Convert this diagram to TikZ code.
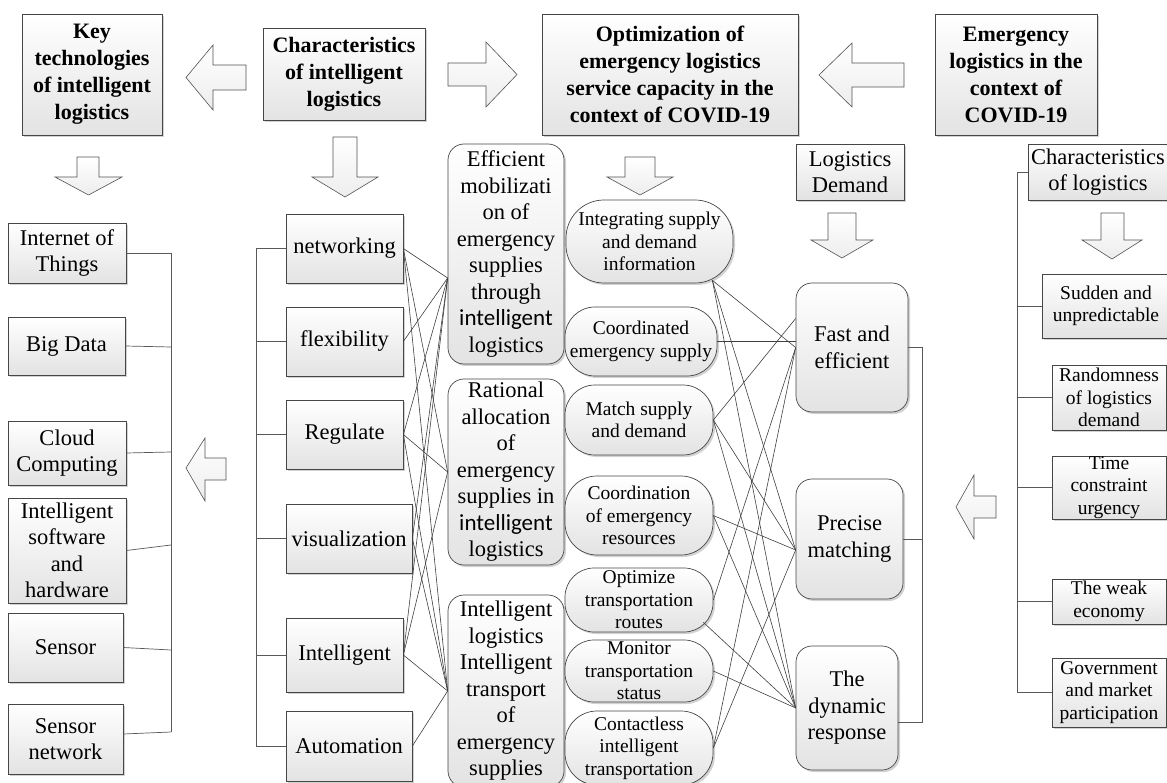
\documentclass[tikz,border=0pt]{standalone}
\usepackage{fontspec}
\setmainfont{Liberation Serif}
\newfontfamily\calibfont{Carlito}
\usetikzlibrary{shadows,calc}
\newcommand\ftitle{\fontsize{22}{27}\selectfont\bfseries}
\newcommand\fbody{\fontsize{22.5}{26.5}\selectfont}
\newcommand\fsmall{\fontsize{19.5}{22.5}\selectfont}
\newcommand\sword[1]{{\calibfont\fontsize{23}{26.5}\selectfont #1}}
\begin{document}
\begin{tikzpicture}[x=1pt,y=-1pt,
  box/.style={draw=gray!55!black, line width=0.7pt, top color=white, bottom color=gray!22,
    drop shadow={shadow xshift=2pt, shadow yshift=-2pt, opacity=0.35, fill=gray},
    align=center, inner sep=0pt},
  rbox/.style={box, rounded corners=16pt},
  pill/.style={box, rounded corners=#1},
  conn/.style={draw=black!75, line width=0.6pt},
  brk/.style={draw=black!65, line width=0.7pt},
  blk/.style={draw=gray!65!black, line width=0.6pt, top color=white, bottom color=gray!14}]
\useasboundingbox (0,0) rectangle (1167,783);
\fill[white] (0,0) rectangle (1167,783);

% ---------- top title boxes ----------
\node[box, minimum width=140pt, minimum height=121pt, font=\ftitle] (key) at (92,74.5) {Key\\technologies\\of intelligent\\logistics};
\node[box, minimum width=162pt, minimum height=92pt, font=\ftitle] (charI) at (344,74) {Characteristics\\of intelligent\\logistics};
\node[box, minimum width=256pt, minimum height=121pt, font=\ftitle] (opt) at (670,74.5) {Optimization of\\emergency logistics\\service capacity in the\\context of COVID-19};
\node[box, minimum width=162pt, minimum height=121pt, font=\ftitle] (emer) at (1016,74.5) {Emergency\\logistics in the\\context of\\COVID-19};

\node[box, minimum width=108pt, minimum height=56pt, font=\fbody] (ldem) at (850,172) {Logistics\\Demand};
\node[box, minimum width=140pt, minimum height=56pt, font=\fbody] (charL) at (1098,172) {Characteristics\\of logistics};

% ---------- block arrows ----------
\path[blk] (186,77.5) -- (213,45) -- (213,65) -- (246,65) -- (246,90) -- (213,90) -- (213,110) -- cycle;
\path[blk] (448,63) -- (486,63) -- (486,42) -- (517,74.5) -- (486,107) -- (486,86) -- (448,86) -- cycle;
\path[blk] (819,75) -- (852,43) -- (852,63) -- (904,63) -- (904,87) -- (852,87) -- (852,107) -- cycle;
\path[blk] (77,157) -- (99,157) -- (99,177) -- (122,177) -- (88.5,195) -- (55,177) -- (77,177) -- cycle;
\path[blk] (333,137) -- (357,137) -- (357,177) -- (378,177) -- (345,197) -- (312,177) -- (333,177) -- cycle;
\path[blk] (625,157) -- (655,157) -- (655,177) -- (673,177) -- (640,195) -- (607,177) -- (625,177) -- cycle;
\path[blk] (828,213) -- (856,213) -- (856,240) -- (873,240) -- (842,258) -- (811,240) -- (828,240) -- cycle;
\path[blk] (1101,213) -- (1124,213) -- (1124,240) -- (1142,240) -- (1112,259) -- (1082,240) -- (1101,240) -- cycle;
\path[blk] (186,468) -- (205,438) -- (205,458) -- (226,458) -- (226,480) -- (205,480) -- (205,501) -- cycle;
\path[blk] (956,507) -- (974,475) -- (974,496) -- (996,496) -- (996,518) -- (974,518) -- (974,539) -- cycle;

% ---------- key technologies ----------
\node[box, minimum width=118pt, minimum height=60pt, font=\fbody] (iot) at (67,253) {Internet of\\Things};
\node[box, minimum width=117pt, minimum height=58pt, font=\fbody] (bigd) at (66.5,346) {Big Data};
\node[box, minimum width=118pt, minimum height=64pt, font=\fbody] (cloud) at (67,453) {Cloud\\Computing};
\node[box, minimum width=118pt, minimum height=105pt, font=\fbody] (isw) at (67,550.5) {Intelligent\\software\\and\\hardware};
\node[box, minimum width=115pt, minimum height=69pt, font=\fbody] (sensor) at (65.5,647.5) {Sensor};
\node[box, minimum width=115pt, minimum height=70pt, font=\fbody] (sensnet) at (65.5,739) {Sensor\\network};

\coordinate (t1) at (171,253);
\coordinate (t2) at (171,347);
\coordinate (t3) at (171,452);
\coordinate (t4) at (171,545);
\coordinate (t5) at (171,650);
\coordinate (t6) at (171,732);
\draw[brk] (t1) -- (t6);
\draw[brk] (iot.east) -- (t1);
\draw[brk] (bigd.east) -- (t2);
\draw[brk] (cloud.east) -- (t3);
\draw[brk] (isw.east) -- (t4);
\draw[brk] (sensor.east) -- (t5);
\draw[brk] ($(sensnet.east)+(0,-5)$) -- (t6);

% ---------- characteristics ----------
\node[box, minimum width=117pt, minimum height=69pt, font=\fbody] (net) at (344.5,248.5) {networking};
\node[box, minimum width=117pt, minimum height=69pt, font=\fbody] (flex) at (344.5,341.5) {flexibility};
\node[box, minimum width=117pt, minimum height=69pt, font=\fbody] (reg) at (344.5,434.5) {Regulate};
\node[box, minimum width=126pt, minimum height=69pt, font=\fbody] (vis) at (349,538.5) {visualization};
\node[box, minimum width=117pt, minimum height=74pt, font=\fbody] (intl) at (344.5,655) {Intelligent};
\node[box, minimum width=126pt, minimum height=70pt, font=\fbody] (auto) at (349,746) {Automation};

\coordinate (lbx) at (256,0);
\draw[brk] (net.west -| lbx) -- (auto.west -| lbx);
\foreach \n in {net,flex,reg,vis,intl,auto} \draw[brk] (\n.west) -- (\n.west -| lbx);

% ---------- middle rounded boxes ----------
\node[rbox, minimum width=116pt, minimum height=220pt, font=\fbody] (eff) at (506,254) {Efficient\\mobilizati\\on of\\emergency\\supplies\\through\\\sword{intelligent}\\logistics};
\node[rbox, minimum width=116pt, minimum height=186pt, font=\fbody] (rat) at (506,472) {Rational\\allocation\\of\\emergency\\supplies in\\\sword{intelligent}\\logistics};
\node[rbox, minimum width=116pt, minimum height=192pt, font=\fbody] (itr) at (506,691) {Intelligent\\logistics\\Intelligent\\transport\\of\\emergency\\supplies};

\coordinate (effin) at ($(eff.west)+(0,24)$);
\foreach \s/\t in {net/effin, net/rat.west, net/itr.west, flex/effin, reg/effin, reg/rat.west, reg/itr.west,
  vis/effin, vis/itr.west, intl/effin, intl/rat.west, intl/itr.west, auto/itr.west}
  \draw[conn] (\s.east) -- (\t);

% ---------- pills ----------
\node[pill=38pt, minimum width=167pt, minimum height=83pt, font=\fsmall] (integ) at (649.5,241.5) {Integrating supply\\and demand\\information};
\node[pill=30pt, minimum width=152pt, minimum height=69pt, font=\fsmall] (coord) at (641,341.5) {Coordinated\\emergency supply};
\node[pill=30pt, minimum width=148pt, minimum height=70pt, font=\fsmall] (match) at (639,420) {Match supply\\and demand};
\node[pill=32pt, minimum width=148pt, minimum height=79pt, font=\fsmall] (coordr) at (639,515.5) {Coordination\\of emergency\\resources};
\node[pill=29pt, minimum width=148pt, minimum height=64pt, font=\fsmall] (optr) at (639,600) {Optimize\\transportation\\routes};
\node[pill=29pt, minimum width=148pt, minimum height=62pt, font=\fsmall] (mon) at (639,671) {Monitor\\transportation\\status};
\node[pill=32pt, minimum width=148pt, minimum height=74pt, font=\fsmall] (contl) at (639,748) {Contactless\\intelligent\\transportation};

% ---------- right outcome boxes ----------
\node[rbox, minimum width=112pt, minimum height=129pt, font=\fbody] (fast) at (852,347.5) {Fast and\\efficient};
\node[rbox, minimum width=107pt, minimum height=120pt, font=\fbody] (prec) at (849.5,539) {Precise\\matching};
\node[rbox, minimum width=102pt, minimum height=124pt, font=\fbody] (dyn) at (847,708) {The\\dynamic\\response};

\coordinate (integout) at ($(integ.south east)+(-21,-3)$);
\coordinate (fastup) at ($(fast.west)+(0,-29)$);
\coordinate (precin) at ($(prec.west)+(0,11)$);
\coordinate (optdown) at ($(optr.south east)+(-10,-10)$);
\draw[conn] (integout) -- (fast.west);
\draw[conn] (integout) -- (precin);
\draw[conn] (integout) -- (dyn.west);
\draw[conn] (coord.east) -- (coord.east -| fast.west);
\draw[conn] (match.east) -- (fastup);
\draw[conn] (match.east) -- (precin);
\draw[conn] (match.east) -- (dyn.west);
\draw[conn] (coordr.east) -- (precin);
\draw[conn] (coordr.east) -- (dyn.west);
\draw[conn] (optr.east) -- (fast.west);
\draw[conn] (optdown) -- (dyn.west);
\draw[conn] (mon.east) -- (dyn.west);
\draw[conn] (contl.east) -- (fast.west);
\draw[conn] (contl.east) -- (precin);

\coordinate (r1) at (922,347.5);
\coordinate (r3) at (922,722);
\draw[brk] (fast.east) -- (r1) -- (r3) -- ($(dyn.east)+(0,14)$);
\draw[brk] (prec.east) -- (prec.east -| r1);

% ---------- characteristics of logistics ----------
\node[box, minimum width=128pt, minimum height=64pt, font=\fsmall] (sud) at (1106,306) {Sudden and\\unpredictable};
\node[box, minimum width=114pt, minimum height=65pt, font=\fsmall] (rand) at (1109,397.5) {Randomness\\of logistics\\demand};
\node[box, minimum width=114pt, minimum height=63pt, font=\fsmall] (time) at (1109,487.5) {Time\\constraint\\urgency};
\node[box, minimum width=114pt, minimum height=45pt, font=\fsmall] (weak) at (1109,601.5) {The weak\\economy};
\node[box, minimum width=114pt, minimum height=69pt, font=\fsmall] (gov) at (1109,692.5) {Government\\and market\\participation};

\coordinate (cbx) at (1017,0);
\draw[brk] (charL.west) -- (charL.west -| cbx) -- (gov.west -| cbx) -- (gov.west);
\foreach \n in {sud,rand,time,weak} \draw[brk] (\n.west) -- (\n.west -| cbx);
\end{tikzpicture}
\end{document}
